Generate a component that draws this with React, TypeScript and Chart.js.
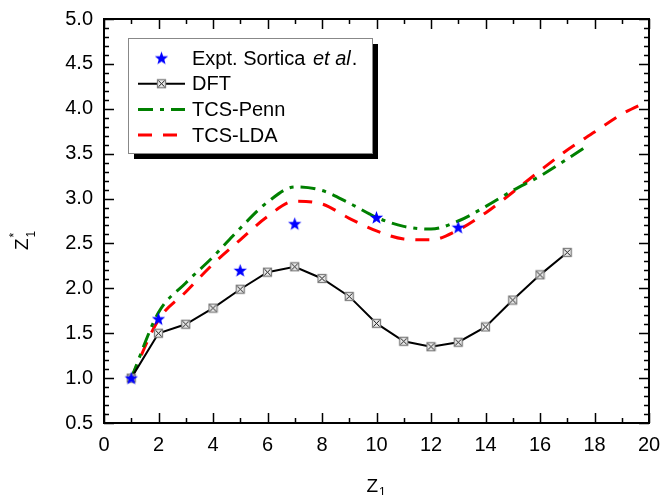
import React, { useEffect, useRef } from "react";
import { Chart, registerables } from "chart.js";

Chart.register(...registerables);

// Effective charge Z1* versus projectile atomic number Z1
const exptZ = [1, 2, 5, 7, 10, 13];
const exptVal = [1.0, 1.66, 2.2, 2.72, 2.79, 2.68];

const dftZ = [1, 2, 3, 4, 5, 6, 7, 8, 9, 10, 11, 12, 13, 14, 15, 16, 17];
const dftVal = [1.0, 1.5, 1.6, 1.78, 1.99, 2.18, 2.24, 2.11, 1.91, 1.61, 1.41, 1.35, 1.4, 1.57, 1.87, 2.15, 2.4];

const pennZ = [1, 2, 3, 4, 5, 6, 7, 8, 9, 10, 11, 12, 13, 14, 15, 16, 17, 17.8];
const pennVal = [1.0, 1.73, 2.06, 2.35, 2.67, 2.96, 3.13, 3.09, 2.95, 2.79, 2.69, 2.66, 2.75, 2.91, 3.09, 3.25, 3.44, 3.6];

const ldaZ = [1, 2, 3, 4, 5, 6, 7, 8, 9, 10, 11, 12, 13, 14, 15, 16, 17, 18, 19, 20];
const ldaVal = [1.0, 1.65, 1.96, 2.27, 2.54, 2.8, 2.97, 2.94, 2.78, 2.64, 2.55, 2.54, 2.65, 2.84, 3.07, 3.31, 3.54, 3.74, 3.94, 4.09];

const xMin = 0;
const xMax = 20;
const xStep = 2;
const yMin = 0.5;
const yMax = 5.0;
const yStep = 0.5;

const legendLabels = ["Expt. Sortica ", "DFT", "TCS-Penn", "TCS-LDA"];

const FONT = "'Liberation Sans', Arial, Helvetica, sans-serif";
const GREEN = "#008000";
const RED = "#ff0000";
const BLUE = "#0000ff";
const PENN_DASH = [15, 7, 4, 7];
const LDA_DASH = [14, 11];

function makeStar(): HTMLCanvasElement {
  const c = document.createElement("canvas");
  c.width = 15;
  c.height = 15;
  const ctx = c.getContext("2d")!;
  ctx.fillStyle = BLUE;
  ctx.beginPath();
  const cx = 7.5, cy = 8, R = 7, r = 2.9;
  for (let i = 0; i < 10; i++) {
    const a = -Math.PI / 2 + (i * Math.PI) / 5;
    const rad = i % 2 === 0 ? R : r;
    ctx.lineTo(cx + rad * Math.cos(a), cy + rad * Math.sin(a));
  }
  ctx.closePath();
  ctx.fill();
  return c;
}

function makeBoxX(): HTMLCanvasElement {
  const c = document.createElement("canvas");
  c.width = 11;
  c.height = 11;
  const ctx = c.getContext("2d")!;
  ctx.fillStyle = "#eeeeee";
  ctx.fillRect(1, 1, 9, 9);
  ctx.strokeStyle = "#808080";
  ctx.lineWidth = 1.3;
  ctx.strokeRect(1.5, 1.5, 8, 8);
  ctx.strokeStyle = "#000";
  ctx.lineWidth = 0.9;
  ctx.beginPath();
  ctx.moveTo(2.5, 2.5);
  ctx.lineTo(8.5, 8.5);
  ctx.moveTo(8.5, 2.5);
  ctx.lineTo(2.5, 8.5);
  ctx.stroke();
  return c;
}

const pts = (xs: number[], ys: number[]) => xs.map((x, i) => ({ x, y: ys[i] }));

export default function App() {
  const ref = useRef<HTMLCanvasElement>(null);

  useEffect(() => {
    const star = makeStar();
    const box = makeBoxX();

    // Frame with inward major/minor ticks, axis titles and the framed legend
    const decor = {
      id: "decor",
      afterDatasetsDraw(chart: any) {
        const ctx: CanvasRenderingContext2D = chart.ctx;
        const { left, right, top, bottom } = chart.chartArea;
        const xs = chart.scales.x;
        const ys = chart.scales.y;
        ctx.save();
        ctx.strokeStyle = "#000";
        ctx.lineWidth = 1.5;
        ctx.beginPath();
        for (let v = xMin; v <= xMax; v += 1) {
          const px = Math.round(xs.getPixelForValue(v)) + 0.5;
          const len = v % xStep === 0 ? 10 : 5;
          ctx.moveTo(px, bottom);
          ctx.lineTo(px, bottom - len);
          ctx.moveTo(px, top);
          ctx.lineTo(px, top + len);
        }
        for (let k = Math.round(yMin * 10); k <= Math.round(yMax * 10); k++) {
          const py = Math.round(ys.getPixelForValue(k / 10)) + 0.5;
          const len = k % 5 === 0 ? 10 : 5;
          ctx.moveTo(left, py);
          ctx.lineTo(left + len, py);
          ctx.moveTo(right, py);
          ctx.lineTo(right - len, py);
        }
        ctx.stroke();
        ctx.lineWidth = 2;
        ctx.strokeRect(left, top, right - left, bottom - top);

        // x axis title: Z with subscript 1
        ctx.fillStyle = "#000";
        ctx.textBaseline = "alphabetic";
        ctx.textAlign = "left";
        ctx.font = `19px ${FONT}`;
        const zw = ctx.measureText("Z").width;
        const cx = (left + right) / 2 - 10;
        ctx.fillText("Z", cx, 492);
        ctx.font = `12px ${FONT}`;
        ctx.fillText("1", cx + zw + 1, 496);

        // y axis title: Z with superscript * and subscript 1, rotated
        ctx.save();
        ctx.translate(28, 250);
        ctx.rotate(-Math.PI / 2);
        ctx.font = `19px ${FONT}`;
        ctx.fillText("Z", 0, 0);
        ctx.font = `12px ${FONT}`;
        ctx.fillText("*", zw + 1, -10);
        ctx.fillText("1", zw + 1, 7);
        ctx.restore();

        // legend
        const lx = left + 24;
        const ly = top + 19;
        const lw = 244;
        const lh = 115;
        ctx.fillStyle = "#000";
        ctx.fillRect(lx + 6, ly + 6, lw, lh);
        ctx.fillStyle = "#fff";
        ctx.fillRect(lx, ly, lw, lh);
        ctx.strokeStyle = "#888";
        ctx.lineWidth = 1;
        ctx.strokeRect(lx + 0.5, ly + 0.5, lw, lh);

        const symL = lx + 10;
        const symR = lx + 57;
        const symC = (symL + symR) / 2;
        const textX = lx + 64;
        const rowY = (i: number) => ly + 20 + i * 25.7;

        ctx.drawImage(star, symC - star.width / 2, rowY(0) - star.height / 2);

        ctx.strokeStyle = "#000";
        ctx.lineWidth = 2;
        ctx.beginPath();
        ctx.moveTo(symL, rowY(1));
        ctx.lineTo(symR, rowY(1));
        ctx.stroke();
        ctx.drawImage(box, symC - box.width / 2, rowY(1) - box.height / 2);

        ctx.lineWidth = 3;
        ctx.strokeStyle = GREEN;
        ctx.setLineDash(PENN_DASH);
        ctx.beginPath();
        ctx.moveTo(symL, rowY(2));
        ctx.lineTo(symR, rowY(2));
        ctx.stroke();

        ctx.strokeStyle = RED;
        ctx.setLineDash(LDA_DASH);
        ctx.beginPath();
        ctx.moveTo(symL, rowY(3));
        ctx.lineTo(symR, rowY(3));
        ctx.stroke();
        ctx.setLineDash([]);

        ctx.fillStyle = "#000";
        ctx.textBaseline = "middle";
        ctx.font = `20px ${FONT}`;
        ctx.fillText(legendLabels[0], textX, rowY(0) + 1);
        let tx = textX + ctx.measureText(legendLabels[0]).width + 2;
        ctx.font = `italic 20px ${FONT}`;
        ctx.fillText("et al", tx, rowY(0) + 1);
        tx += ctx.measureText("et al").width + 1;
        ctx.font = `20px ${FONT}`;
        ctx.fillText(".", tx, rowY(0) + 1);
        for (let i = 1; i < 4; i++) ctx.fillText(legendLabels[i], textX, rowY(i) + 1);
        ctx.restore();
      },
    };

    const chart = new Chart(ref.current!, {
      type: "line",
      data: {
        datasets: [
          {
            label: "Expt. Sortica et al.",
            data: pts(exptZ, exptVal),
            showLine: false,
            pointStyle: star as any,
            pointRadius: 7,
            borderWidth: 0,
          },
          {
            label: "DFT",
            data: pts(dftZ, dftVal),
            borderColor: "#000",
            borderWidth: 2,
            pointStyle: box as any,
            pointRadius: 5,
            tension: 0,
          },
          {
            label: "TCS-Penn",
            data: pts(pennZ, pennVal),
            borderColor: GREEN,
            borderWidth: 3,
            borderDash: PENN_DASH,
            pointRadius: 0,
            cubicInterpolationMode: "monotone",
          },
          {
            label: "TCS-LDA",
            data: pts(ldaZ, ldaVal),
            borderColor: RED,
            borderWidth: 3,
            borderDash: LDA_DASH,
            pointRadius: 0,
            cubicInterpolationMode: "monotone",
          },
        ],
      },
      options: {
        responsive: false,
        animation: false,
        devicePixelRatio: 1,
        layout: { padding: { left: 0, right: 12, top: 19, bottom: 0 } },
        plugins: { legend: { display: false }, tooltip: { enabled: false } },
        scales: {
          x: {
            type: "linear",
            min: xMin,
            max: xMax,
            afterFit: (s: any) => {
              s.height = 72;
              s.paddingLeft = 0;
              s.paddingRight = 0;
            },
            grid: { display: false, drawTicks: false, tickLength: 0 },
            border: { display: false },
            ticks: {
              stepSize: xStep,
              autoSkip: false,
              maxRotation: 0,
              padding: 10,
              color: "#000",
              font: { family: FONT, size: 20 },
            },
          },
          y: {
            type: "linear",
            min: yMin,
            max: yMax,
            afterFit: (s: any) => {
              s.width = 104;
              s.paddingTop = 0;
              s.paddingBottom = 0;
            },
            grid: { display: false, drawTicks: false, tickLength: 0 },
            border: { display: false },
            ticks: {
              stepSize: yStep,
              autoSkip: false,
              padding: 11,
              color: "#000",
              font: { family: FONT, size: 20 },
              callback: (v: any) => Number(v).toFixed(1),
            },
          },
        },
      },
      plugins: [decor],
    });
    return () => chart.destroy();
  }, []);

  return (
    <div style={{ position: "absolute", left: 0, top: 0, width: 661, height: 495, background: "#fff" }}>
      <canvas ref={ref} width={661} height={495} style={{ width: 661, height: 495, display: "block" }} />
    </div>
  );
}
